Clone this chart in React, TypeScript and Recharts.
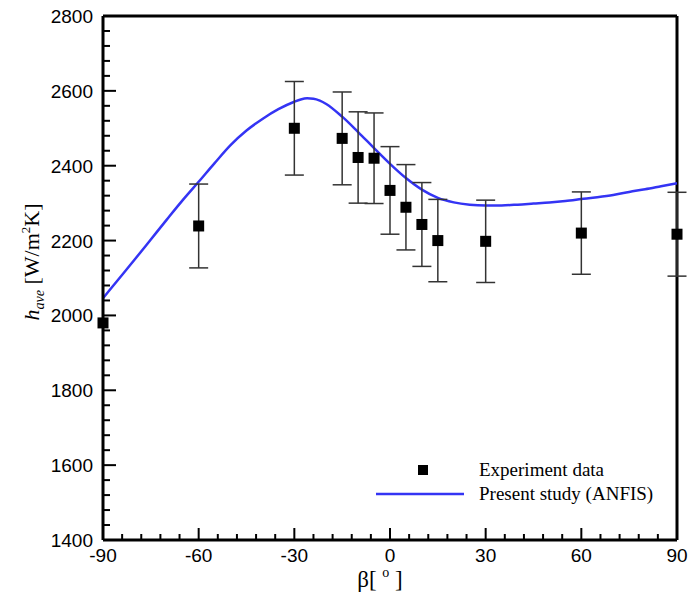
import {
  ComposedChart,
  Line,
  Scatter,
  ErrorBar,
  XAxis,
  YAxis,
  ReferenceLine,
  Legend,
} from 'recharts'

// curva ANFIS
const curveBeta = [
  -90, -85, -80, -75, -70, -65, -60, -55, -50, -45, -40, -35, -30, -28, -26, -24, -22, -20, -15, -10, -5, 0,
  5, 10, 15, 20, 25, 30, 35, 40, 45, 50, 55, 60, 65, 70, 75, 80, 85, 90,
]
const curveH = [
  2046, 2098, 2150, 2203, 2256, 2308, 2357, 2407, 2455, 2494, 2525, 2551, 2571, 2577, 2580, 2579, 2574,
  2565, 2531, 2490, 2447, 2405, 2367, 2336, 2314, 2302, 2296, 2294, 2294, 2296, 2299, 2302, 2306, 2311,
  2316, 2322, 2330, 2337, 2345, 2353,
]

// datos experimentales
const expBeta = [-90, -60, -30, -15, -10, -5, 0, 5, 10, 15, 30, 60, 90]
const expH = [1980, 2239, 2500, 2473, 2422, 2420, 2334, 2289, 2243, 2200, 2198, 2220, 2217]
const expErr = [null, 112, 125, 124, 122, 121, 117, 114, 112, 110, 110, 110, 112]

const xMajor = [-90, -60, -30, 0, 30, 60, 90]
const yMajor = [1400, 1600, 1800, 2000, 2200, 2400, 2600, 2800]

const xTicks: number[] = []
for (let v = -90; v <= 90; v += 6) xTicks.push(v)
const yTicks: number[] = []
for (let v = 1400; v <= 2800; v += 40) yTicks.push(v)

const curve = curveBeta.map((b, i) => ({ beta: b, h: curveH[i] }))
const points = expBeta.map((b, i) => ({ beta: b, h: expH[i], err: expErr[i] }))

const SANS = '"Liberation Sans", Arial, sans-serif'
const SERIF = '"Liberation Serif", "Times New Roman", serif'
const BLUE = '#3434f4'

function XTick(props: any) {
  const { x, y, payload } = props
  const major = xMajor.includes(payload.value)
  return (
    <g>
      <line x1={x} x2={x} y1={y} y2={y - (major ? 12 : 6)} stroke="#000" strokeWidth={2} />
      {major && (
        <text x={x} y={y + 22} textAnchor="middle" fontFamily={SANS} fontSize={19} fill="#000">
          {payload.value}
        </text>
      )}
    </g>
  )
}

function YTick(props: any) {
  const { x, y, payload } = props
  const major = yMajor.includes(payload.value)
  return (
    <g>
      <line x1={x} x2={x + (major ? 13 : 7)} y1={y} y2={y} stroke="#000" strokeWidth={2} />
      {major && (
        <text x={x - 10} y={y + 7} textAnchor="end" fontFamily={SANS} fontSize={19} fill="#000">
          {payload.value}
        </text>
      )}
    </g>
  )
}

function Square(props: any) {
  const { cx, cy } = props
  if (cx == null || cy == null) return null
  return <rect x={cx - 5.5} y={cy - 5.5} width={11} height={11} fill="#000" />
}

function Titles() {
  return (
    <g>
      <text x={380} y={587} textAnchor="middle" fontFamily={SERIF} fontSize={23} fill="#000">
        <tspan>β[ </tspan>
        <tspan fontSize={14} dy={-10}>o</tspan>
        <tspan dy={10}> ]</tspan>
      </text>
      <text
        transform="translate(39, 262) rotate(-90)"
        textAnchor="middle"
        fontFamily={SERIF}
        fontSize={22}
        fill="#000"
      >
        <tspan fontStyle="italic">h</tspan>
        <tspan fontStyle="italic" fontSize={14} dy={5}>ave</tspan>
        <tspan dy={-5}> [W/m</tspan>
        <tspan fontSize={13} dy={-9}>2</tspan>
        <tspan dy={9}>K]</tspan>
      </text>
    </g>
  )
}

function LegendBox() {
  return (
    <svg width={320} height={56} style={{ display: 'block' }}>
      <rect x={42} y={10} width={10} height={10} fill="#000" />
      <text x={103} y={21} fontFamily={SERIF} fontSize={19} fill="#000">
        Experiment data
      </text>
      <line x1={0} x2={88} y1={39} y2={39} stroke={BLUE} strokeWidth={2.5} />
      <text x={103} y={45} fontFamily={SERIF} fontSize={19} fill="#000">
        Present study (ANFIS)
      </text>
    </svg>
  )
}

export default function App() {
  return (
    <div style={{ position: 'absolute', left: 0, top: 0, background: '#fff' }}>
      <ComposedChart width={689} height={601} margin={{ top: 16, right: 12, bottom: 0, left: 0 }}>
        <XAxis
          dataKey="beta"
          type="number"
          domain={[-90, 90]}
          ticks={xTicks}
          interval={0}
          tickSize={0}
          tickMargin={0}
          tickLine={false}
          tick={<XTick />}
          height={61}
          axisLine={{ stroke: '#000', strokeWidth: 3 }}
          allowDuplicatedCategory={false}
        />
        <YAxis
          dataKey="h"
          type="number"
          domain={[1400, 2800]}
          ticks={yTicks}
          interval={0}
          tickSize={0}
          tickMargin={0}
          tickLine={false}
          tick={<YTick />}
          width={103}
          axisLine={{ stroke: '#000', strokeWidth: 3 }}
        />
        <ReferenceLine y={2800} stroke="#000" strokeWidth={3} />
        <ReferenceLine x={90} stroke="#000" strokeWidth={3} />
        <Line
          data={curve}
          dataKey="h"
          type="monotone"
          stroke={BLUE}
          strokeWidth={2.5}
          dot={false}
          activeDot={false}
          isAnimationActive={false}
        />
        <Scatter data={points} dataKey="h" shape={<Square />} isAnimationActive={false}>
          <ErrorBar dataKey="err" direction="y" width={9.5} stroke="#333" strokeWidth={1.5} />
        </Scatter>
        <Legend
          layout="vertical"
          align="center"
          verticalAlign="middle"
          content={<LegendBox />}
          wrapperStyle={{ position: 'absolute', left: 376, top: 455, width: 320 }}
        />
        <Titles />
      </ComposedChart>
    </div>
  )
}
